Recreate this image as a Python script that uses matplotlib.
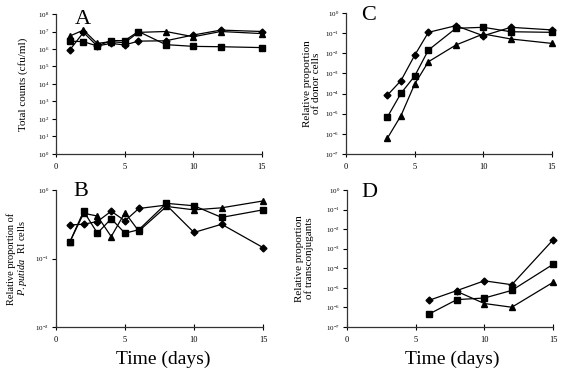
import numpy as np
import matplotlib
matplotlib.use("Agg")
import matplotlib.pyplot as plt
from matplotlib.ticker import LogLocator, LogFormatterSciNotation, NullLocator

plt.rcParams['font.family'] = ['Liberation Serif', 'DejaVu Serif']
plt.rcParams['mathtext.fontset'] = 'custom'
plt.rcParams['mathtext.rm'] = 'Liberation Serif'
plt.rcParams['mathtext.it'] = 'Liberation Serif:italic'

# ===================== data (log10 values) =====================
days_a = [1, 2, 3, 4, 5, 6, 8, 10, 12, 15]
a_diamond = [5.94, 6.95, 6.17, 6.32, 6.23, 6.45, 6.47, 6.80, 7.08, 7.00]
a_square = [6.45, 6.42, 6.17, 6.48, 6.48, 7.00, 6.25, 6.15, 6.13, 6.08]
a_triangle = [6.74, 7.08, 6.32, 6.42, 6.36, 6.95, 7.00, 6.70, 7.00, 6.88]

days_b = [1, 2, 3, 4, 5, 6, 8, 10, 12, 15]
b_diamond = [-0.51, -0.50, -0.46, -0.31, -0.45, -0.27, -0.22, -0.62, -0.50, -0.84]
b_square = [-0.76, -0.31, -0.63, -0.42, -0.63, -0.58, -0.195, -0.23, -0.40, -0.29]
b_triangle = [-0.76, -0.34, -0.38, -0.68, -0.33, -0.60, -0.24, -0.29, -0.26, -0.16]

days_c = [3, 4, 5, 6, 8, 10, 12, 15]
c_diamond = [-4.09, -3.36, -2.10, -0.96, -0.63, -1.13, -0.71, -0.84]
c_square = [-5.18, -3.99, -3.13, -1.84, -0.76, -0.71, -0.93, -0.96]
c_triangle = [-6.23, -5.10, -3.53, -2.42, -1.59, -1.04, -1.29, -1.51]

days_d = [6, 8, 10, 12, 15]
d_diamond = [-5.63, -5.14, -4.64, -4.84, -2.55]
d_square = [-6.33, -5.60, -5.52, -5.13, -3.80]
days_d_tri = [8, 10, 12, 15]
d_triangle = [-5.18, -5.80, -5.99, -4.72]

W, H = 563, 379
fig = plt.figure(figsize=(W / 100, H / 100), dpi=100)


def make_ax(left, top, right, bottom):
    return fig.add_axes([left / W, 1 - bottom / H, (right - left) / W, (bottom - top) / H])


def style(ax, ylo, yhi, letter, lx, ly):
    ax.set_yscale('log')
    ax.set_ylim(10.0 ** ylo, 10.0 ** yhi)
    ax.set_xlim(0, 15)
    ax.set_xticks([0, 5, 10, 15])
    ax.yaxis.set_major_locator(LogLocator(base=10, numticks=20))
    ax.yaxis.set_major_formatter(LogFormatterSciNotation())
    ax.yaxis.set_minor_locator(NullLocator())
    ax.spines['top'].set_visible(False)
    ax.spines['right'].set_visible(False)
    for s in ['left', 'bottom']:
        ax.spines[s].set_linewidth(0.9)
        ax.spines[s].set_color('#333333')
    ax.tick_params(axis='y', direction='out', length=3, width=0.8, labelsize=5, pad=2)
    ax.tick_params(axis='x', direction='inout', length=5, width=0.8, labelsize=6, pad=4)
    ax.text(lx, ly, letter, transform=ax.transAxes, fontsize=16, va='center', ha='center')


def series(ax, x, y, marker, ms):
    ax.plot(x, 10.0 ** np.array(y), color='black', lw=0.9, marker=marker, ms=ms,
            markerfacecolor='black', markeredgecolor='black', clip_on=False)


# panel A
ax = make_ax(56, 14, 262, 154)
series(ax, days_a, a_diamond, 'D', 3.5)
series(ax, days_a, a_square, 's', 4.5)
series(ax, days_a, a_triangle, '^', 4.5)
style(ax, 0, 8, 'A', 0.13, 0.96)
ax.set_ylabel('Total counts (cfu/ml)', fontsize=8)
ax.yaxis.set_label_coords(-0.135, 0.5)

# panel B
ax = make_ax(56, 190, 263, 327)
series(ax, days_b, b_diamond, 'D', 3.5)
series(ax, days_b, b_square, 's', 4.5)
series(ax, days_b, b_triangle, '^', 4.5)
style(ax, -2, 0, 'B', 0.12, 0.99)
ax.set_ylabel('Relative proportion of\n$\\mathit{P. putida}$  RI cells', fontsize=7.5, linespacing=1.05)
ax.yaxis.set_label_coords(-0.13, 0.5)

# panel C
ax = make_ax(346, 13, 552, 154)
series(ax, days_c, c_diamond, 'D', 3.5)
series(ax, days_c, c_square, 's', 4.5)
series(ax, days_c, c_triangle, '^', 4.5)
style(ax, -7, 0, 'C', 0.11, 0.98)
ax.set_ylabel('Relative proportion\nof donor cells', fontsize=8, linespacing=1.1)
ax.yaxis.set_label_coords(-0.12, 0.5)

# panel D
ax = make_ax(347, 190, 553, 327)
series(ax, days_d, d_diamond, 'D', 3.5)
series(ax, days_d, d_square, 's', 4.5)
series(ax, days_d_tri, d_triangle, '^', 4.5)
style(ax, -7, 0, 'D', 0.11, 0.98)
ax.set_ylabel('Relative proportion\nof transconjugants', fontsize=8, linespacing=1.1)
ax.yaxis.set_label_coords(-0.16, 0.5)

fig.text(163 / W, 1 - 359 / H, 'Time (days)', fontsize=14, ha='center', va='center')
fig.text(452 / W, 1 - 359 / H, 'Time (days)', fontsize=14, ha='center', va='center')

fig.savefig('out.png', dpi=100)
